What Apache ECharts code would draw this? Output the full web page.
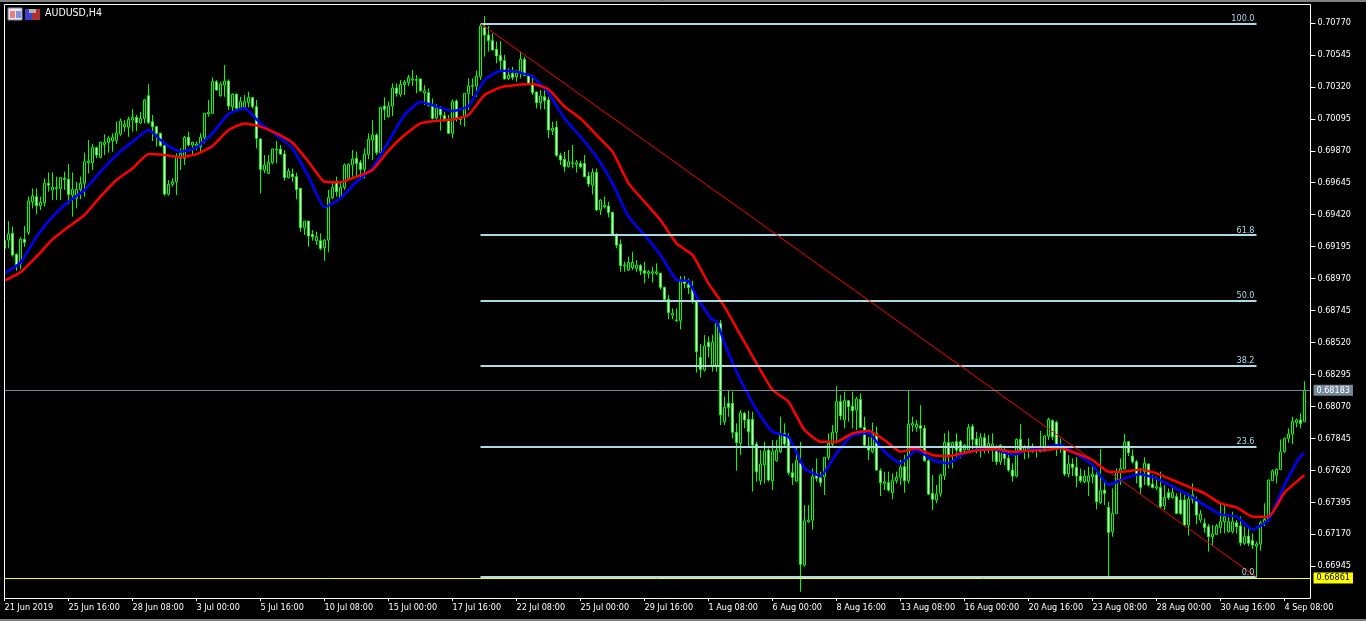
<!DOCTYPE html>
<html>
<head>
<meta charset="utf-8">
<title>AUDUSD,H4</title>
<script src="https://cdn.jsdelivr.net/npm/echarts@6/dist/echarts.min.js"></script>
<style>
html, body { margin: 0; padding: 0; background: #000; }
#chart { width: 1366px; height: 621px; }
</style>
</head>
<body>
<div id="chart"></div>
<script>
var tickLabels = ['21 Jun 2019', '25 Jun 16:00', '28 Jun 08:00', '3 Jul 00:00', '5 Jul 16:00', '10 Jul 08:00', '15 Jul 00:00',
    '17 Jul 16:00', '22 Jul 08:00', '25 Jul 00:00', '29 Jul 16:00', '1 Aug 08:00', '6 Aug 00:00', '8 Aug 16:00',
    '13 Aug 08:00', '16 Aug 00:00', '20 Aug 16:00', '23 Aug 08:00', '28 Aug 00:00', '30 Aug 16:00', '4 Sep 08:00'];
var priceTicks = [0.70770, 0.70545, 0.70320, 0.70095, 0.69870, 0.69645, 0.69420, 0.69195, 0.68970, 0.68745,
    0.68520, 0.68295, 0.68070, 0.67845, 0.67620, 0.67395, 0.67170, 0.66945];

var opens = [
0.69183,0.69241,0.69288,0.69140,0.69077,0.69246,0.69295,0.69511,0.69547,0.69483,
0.69504,0.69641,0.69594,0.69603,0.69605,0.69676,0.69669,0.69558,0.69535,0.69598,
0.69641,0.69786,0.69786,0.69892,0.69824,0.69913,0.69929,0.69941,0.69941,0.69988,
0.70040,0.70037,0.70087,0.70105,0.70066,0.70098,0.70258,0.70075,0.70040,0.69993,
0.69906,0.69565,0.69634,0.69652,0.69817,0.69817,0.69965,0.69911,0.69904,0.69899,
0.69965,0.70129,0.70134,0.70357,0.70258,0.70333,0.70361,0.70181,0.70268,0.70169,
0.70176,0.70211,0.70244,0.70181,0.69953,0.69735,0.69711,0.69786,0.69875,0.69882,
0.69847,0.69681,0.69706,0.69688,0.69605,0.69328,0.69375,0.69281,0.69237,0.69237,
0.69187,0.69241,0.69540,0.69652,0.69542,0.69612,0.69676,0.69770,0.69817,0.69786,
0.69739,0.69845,0.69946,0.69981,0.69857,0.70185,0.70110,0.70185,0.70312,0.70268,
0.70336,0.70350,0.70368,0.70366,0.70376,0.70279,0.70279,0.70190,0.70101,0.70169,
0.70117,0.70091,0.69993,0.70221,0.70098,0.70105,0.70275,0.70324,0.70326,0.70392,
0.70737,0.70685,0.70646,0.70585,0.70542,0.70505,0.70380,0.70415,0.70392,0.70415,
0.70514,0.70404,0.70345,0.70284,0.70209,0.70251,0.70228,0.70012,0.70035,0.69838,
0.69810,0.69758,0.69781,0.69774,0.69781,0.69781,0.69692,0.69629,0.69718,0.69453,
0.69476,0.69481,0.69436,0.69281,0.69211,0.69058,0.69030,0.69047,0.69042,0.69061,
0.69025,0.69007,0.69007,0.69007,0.69007,0.68908,0.68824,0.68713,0.68673,0.68673,
0.68960,0.68929,0.68901,0.68807,0.68415,0.68326,0.68521,0.68349,0.68349,0.68654,
0.67962,0.68091,0.68091,0.67887,0.67809,0.68021,0.67978,0.67978,0.67804,0.67546,
0.67657,0.67762,0.67546,0.67687,0.67750,0.67880,0.67856,0.67603,0.67544,0.67668,
0.66952,0.67257,0.67269,0.67598,0.67567,0.67574,0.67711,0.67804,0.67887,0.68103,
0.67974,0.68110,0.68072,0.68044,0.68119,0.67922,0.67790,0.67750,0.67880,0.67617,
0.67527,0.67532,0.67462,0.67546,0.67570,0.67645,0.67546,0.67938,0.67922,0.67934,
0.67915,0.67687,0.67457,0.67410,0.67457,0.67581,0.67816,0.67790,0.67821,0.67821,
0.67762,0.67762,0.67927,0.67840,0.67786,0.67849,0.67762,0.67762,0.67767,0.67680,
0.67750,0.67704,0.67621,0.67579,0.67837,0.67762,0.67762,0.67750,0.67762,0.67750,
0.67774,0.67861,0.67969,0.67957,0.67774,0.67762,0.67593,0.67664,0.67640,0.67579,
0.67539,0.67539,0.67574,0.67586,0.67391,0.67480,0.67358,0.67187,0.67316,0.67605,
0.67628,0.67821,0.67720,0.67680,0.67586,0.67610,0.67664,0.67523,0.67495,0.67499,
0.67368,0.67462,0.67427,0.67434,0.67410,0.67410,0.67234,0.67415,0.67410,0.67269,
0.67246,0.67222,0.67152,0.67168,0.67217,0.67257,0.67187,0.67187,0.67250,0.67227,
0.67105,0.67156,0.67124,0.67086,0.67100,0.67246,0.67274,0.67546,0.67586,0.67626,
0.67750,0.67844,0.67875,0.67957,0.67974,0.67962];
var highs = [
0.69253,0.69375,0.69335,0.69148,0.69260,0.69340,0.69547,0.69605,0.69605,0.69547,
0.69676,0.69718,0.69718,0.69688,0.69683,0.69723,0.69777,0.69718,0.69652,0.69688,
0.69857,0.69946,0.69918,0.69899,0.69934,0.69986,0.69974,0.69993,0.70075,0.70098,
0.70087,0.70110,0.70164,0.70122,0.70145,0.70235,0.70340,0.70122,0.70040,0.69997,
0.69934,0.69664,0.69676,0.69852,0.69887,0.69974,0.70005,0.69934,0.69934,0.69993,
0.70134,0.70228,0.70387,0.70368,0.70357,0.70474,0.70373,0.70275,0.70275,0.70251,
0.70263,0.70286,0.70246,0.70228,0.69958,0.69840,0.69840,0.69887,0.69939,0.69911,
0.69875,0.69746,0.69746,0.69716,0.69605,0.69375,0.69375,0.69312,0.69300,0.69288,
0.69248,0.69594,0.69652,0.69688,0.69652,0.69781,0.69781,0.69875,0.69864,0.69805,
0.69887,0.69993,0.70087,0.69993,0.70181,0.70246,0.70216,0.70345,0.70345,0.70368,
0.70368,0.70404,0.70439,0.70404,0.70376,0.70333,0.70310,0.70239,0.70199,0.70185,
0.70145,0.70122,0.70232,0.70232,0.70110,0.70275,0.70380,0.70380,0.70434,0.70763,
0.70819,0.70749,0.70697,0.70638,0.70643,0.70545,0.70451,0.70462,0.70439,0.70568,
0.70533,0.70404,0.70404,0.70286,0.70298,0.70310,0.70251,0.70075,0.70082,0.69857,
0.69864,0.69875,0.69911,0.69805,0.69800,0.69840,0.69723,0.69746,0.69746,0.69528,
0.69547,0.69511,0.69441,0.69288,0.69246,0.69089,0.69124,0.69159,0.69101,0.69072,
0.69089,0.69030,0.69054,0.69077,0.69011,0.68913,0.68854,0.68760,0.68760,0.68988,
0.68988,0.68971,0.68953,0.68819,0.68509,0.68572,0.68561,0.68572,0.68666,0.68678,
0.68138,0.68180,0.68173,0.67950,0.68044,0.68032,0.68039,0.68032,0.67821,0.67762,
0.67821,0.67774,0.67833,0.67833,0.67997,0.67950,0.67880,0.67668,0.67786,0.67821,
0.67375,0.67375,0.67633,0.67703,0.67610,0.67711,0.67880,0.67938,0.68213,0.68150,
0.68173,0.68114,0.68173,0.68138,0.68161,0.67997,0.67856,0.67957,0.67927,0.67633,
0.67610,0.67610,0.67598,0.67610,0.67692,0.67727,0.68178,0.67997,0.67974,0.68079,
0.67938,0.67696,0.67586,0.67516,0.67593,0.67880,0.67896,0.67821,0.67880,0.67833,
0.67804,0.67945,0.67945,0.67891,0.67880,0.67880,0.67868,0.67880,0.67797,0.67804,
0.67786,0.67750,0.67668,0.67844,0.67945,0.67797,0.67844,0.67809,0.67786,0.67898,
0.67868,0.67990,0.67978,0.67969,0.67844,0.67786,0.67727,0.67704,0.67711,0.67633,
0.67621,0.67645,0.67657,0.67621,0.67769,0.67539,0.67398,0.67492,0.67633,0.67704,
0.67875,0.67826,0.67767,0.67692,0.67633,0.67711,0.67668,0.67586,0.67574,0.67610,
0.67516,0.67492,0.67516,0.67457,0.67462,0.67445,0.67457,0.67527,0.67434,0.67340,
0.67281,0.67241,0.67234,0.67241,0.67387,0.67382,0.67293,0.67328,0.67269,0.67293,
0.67222,0.67210,0.67175,0.67117,0.67264,0.67387,0.67555,0.67626,0.67633,0.67837,
0.67851,0.67915,0.67997,0.67985,0.68021,0.68248];
var lows = [
0.69176,0.69183,0.69124,0.69025,0.69035,0.69194,0.69277,0.69464,0.69422,0.69453,
0.69476,0.69582,0.69523,0.69523,0.69523,0.69594,0.69495,0.69406,0.69464,0.69530,
0.69547,0.69711,0.69735,0.69817,0.69817,0.69840,0.69857,0.69864,0.69918,0.69976,
0.70005,0.69969,0.70005,0.70009,0.70059,0.70063,0.70059,0.69939,0.69899,0.69899,
0.69554,0.69554,0.69617,0.69558,0.69735,0.69770,0.69899,0.69840,0.69875,0.69864,
0.69922,0.70110,0.70134,0.70293,0.70251,0.70251,0.70157,0.70145,0.70157,0.70157,
0.70169,0.70176,0.70169,0.69887,0.69570,0.69711,0.69706,0.69777,0.69781,0.69840,
0.69659,0.69676,0.69652,0.69528,0.69300,0.69277,0.69194,0.69237,0.69206,0.69171,
0.69094,0.69155,0.69530,0.69547,0.69530,0.69594,0.69664,0.69688,0.69688,0.69664,
0.69676,0.69810,0.69805,0.69840,0.69852,0.70087,0.70105,0.70115,0.70251,0.70251,
0.70263,0.70326,0.70326,0.70275,0.70286,0.70192,0.70181,0.70091,0.70091,0.70012,
0.70075,0.69988,0.69958,0.70075,0.70051,0.70040,0.70157,0.70256,0.70251,0.70368,
0.70533,0.70568,0.70580,0.70486,0.70439,0.70373,0.70368,0.70368,0.70357,0.70380,
0.70397,0.70345,0.70263,0.70169,0.70162,0.70162,0.69958,0.69981,0.69828,0.69770,
0.69723,0.69753,0.69746,0.69716,0.69746,0.69683,0.69617,0.69563,0.69448,0.69418,
0.69464,0.69401,0.69277,0.69183,0.69018,0.69018,0.69025,0.69030,0.69018,0.68995,
0.68936,0.68971,0.68941,0.68995,0.68894,0.68819,0.68683,0.68683,0.68666,0.68612,
0.68901,0.68861,0.68795,0.68307,0.68274,0.68314,0.68415,0.68314,0.68314,0.67938,
0.67938,0.67997,0.67844,0.67617,0.67727,0.67915,0.67786,0.67469,0.67539,0.67516,
0.67527,0.67539,0.67480,0.67680,0.67739,0.67786,0.67586,0.67516,0.67539,0.66764,
0.66940,0.67250,0.67203,0.67539,0.67504,0.67445,0.67692,0.67786,0.67809,0.67974,
0.67915,0.67962,0.67915,0.67903,0.67915,0.67781,0.67692,0.67739,0.67617,0.67438,
0.67480,0.67469,0.67415,0.67527,0.67516,0.67462,0.67527,0.67891,0.67891,0.67786,
0.67680,0.67445,0.67340,0.67387,0.67433,0.67551,0.67633,0.67633,0.67715,0.67704,
0.67739,0.67750,0.67767,0.67739,0.67711,0.67739,0.67739,0.67680,0.67657,0.67657,
0.67657,0.67610,0.67539,0.67570,0.67762,0.67696,0.67704,0.67743,0.67711,0.67750,
0.67750,0.67833,0.67833,0.67720,0.67743,0.67579,0.67570,0.67579,0.67499,0.67532,
0.67527,0.67438,0.67527,0.67344,0.67382,0.67375,0.66875,0.67152,0.67316,0.67516,
0.67628,0.67720,0.67668,0.67527,0.67452,0.67516,0.67504,0.67492,0.67480,0.67351,
0.67340,0.67410,0.67422,0.67311,0.67304,0.67222,0.67159,0.67386,0.67241,0.67250,
0.67180,0.67046,0.67086,0.67163,0.67175,0.67175,0.67180,0.67175,0.67175,0.67086,
0.67093,0.67086,0.67065,0.66861,0.67053,0.67227,0.67257,0.67546,0.67527,0.67621,
0.67743,0.67814,0.67804,0.67922,0.67915,0.67962];
var closes = [
0.69237,0.69284,0.69136,0.69065,0.69248,0.69225,0.69516,0.69551,0.69483,0.69507,
0.69641,0.69627,0.69612,0.69612,0.69681,0.69669,0.69563,0.69598,0.69598,0.69641,
0.69793,0.69798,0.69894,0.69840,0.69929,0.69929,0.69960,0.69965,0.69995,0.70080,
0.70056,0.70091,0.70105,0.70068,0.70098,0.70228,0.70070,0.70040,0.69993,0.69906,
0.69565,0.69634,0.69652,0.69828,0.69852,0.69965,0.69911,0.69929,0.69918,0.69965,
0.70134,0.70141,0.70357,0.70298,0.70340,0.70361,0.70185,0.70268,0.70169,0.70216,
0.70216,0.70246,0.70181,0.69958,0.69739,0.69770,0.69789,0.69882,0.69882,0.69847,
0.69681,0.69727,0.69688,0.69598,0.69328,0.69375,0.69270,0.69265,0.69265,0.69183,
0.69241,0.69540,0.69610,0.69582,0.69612,0.69770,0.69774,0.69812,0.69781,0.69739,
0.69845,0.69951,0.69981,0.69857,0.70174,0.70162,0.70185,0.70312,0.70275,0.70338,
0.70352,0.70387,0.70376,0.70373,0.70293,0.70293,0.70190,0.70098,0.70171,0.70122,
0.70094,0.69993,0.70216,0.70098,0.70091,0.70275,0.70326,0.70329,0.70397,0.70749,
0.70685,0.70646,0.70580,0.70538,0.70505,0.70376,0.70401,0.70387,0.70415,0.70514,
0.70401,0.70345,0.70279,0.70209,0.70256,0.70223,0.70016,0.70028,0.69838,0.69805,
0.69758,0.69793,0.69786,0.69786,0.69758,0.69688,0.69636,0.69718,0.69453,0.69523,
0.69488,0.69434,0.69281,0.69206,0.69061,0.69065,0.69084,0.69084,0.69065,0.69025,
0.69007,0.69018,0.69018,0.69018,0.68908,0.68824,0.68730,0.68725,0.68678,0.68960,
0.68936,0.68906,0.68807,0.68455,0.68330,0.68495,0.68490,0.68521,0.68654,0.68009,
0.68063,0.68063,0.67887,0.67814,0.68025,0.67974,0.67891,0.67797,0.67610,0.67664,
0.67755,0.67551,0.67750,0.67762,0.67880,0.67804,0.67603,0.67570,0.67687,0.66957,
0.67264,0.67269,0.67574,0.67563,0.67534,0.67711,0.67809,0.67887,0.68103,0.68002,
0.68110,0.68068,0.68039,0.68122,0.67922,0.67797,0.67762,0.67875,0.67621,0.67532,
0.67539,0.67480,0.67546,0.67570,0.67640,0.67546,0.67945,0.67950,0.67943,0.67915,
0.67687,0.67452,0.67415,0.67452,0.67586,0.67816,0.67727,0.67814,0.67762,0.67750,
0.67797,0.67922,0.67837,0.67797,0.67849,0.67774,0.67809,0.67804,0.67680,0.67797,
0.67704,0.67621,0.67579,0.67837,0.67762,0.67786,0.67774,0.67774,0.67774,0.67774,
0.67861,0.67978,0.67856,0.67804,0.67804,0.67593,0.67664,0.67640,0.67579,0.67546,
0.67579,0.67579,0.67593,0.67398,0.67476,0.67457,0.67182,0.67316,0.67610,0.67633,
0.67816,0.67743,0.67680,0.67593,0.67499,0.67668,0.67516,0.67499,0.67504,0.67363,
0.67429,0.67427,0.67462,0.67316,0.67316,0.67234,0.67415,0.67445,0.67304,0.67311,
0.67217,0.67152,0.67171,0.67227,0.67257,0.67293,0.67257,0.67257,0.67222,0.67109,
0.67152,0.67105,0.67093,0.67100,0.67250,0.67274,0.67551,0.67614,0.67626,0.67750,
0.67844,0.67875,0.67962,0.67974,0.67950,0.68183];

// moving averages, read every 4th bar (a few more where the blue line has flats)
var redBars = [0,4,8,12,16,20,24,28,32,36,40,44,48,52,56,60,64,68,72,76,80,84,88,92,96,100,104,108,112,116,120,124,128,132,136,140,144,148,152,156,160,164,168,
    172,176,180,184,188,192,196,200,204,208,212,216,220,224,228,232,236,240,244,248,252,256,260,264,268,272,276,280,284,288,292,296,300,304,308,312,316,320,324,325];
var blueBars = [0,4,8,12,16,20,24,28,32,36,40,44,48,52,56,60,64,68,72,76,80,84,88,92,96,100,104,108,112,116,120,124,128,132,136,140,144,148,152,156,160,164,168,
    171,173,176,177,178,180,184,188,192,196,200,204,208,212,216,220,224,228,232,236,240,244,248,252,256,260,264,268,272,276,280,284,288,292,296,300,304,308,312,316,320,324,325];
var blueMa = [0.69007,0.69082,0.69265,0.69406,0.69511,0.69594,0.69723,0.69840,0.69934,0.70016,0.69922,0.69864,0.69894,0.69993,0.70129,0.70169,0.70063,0.69981,0.69887,0.69688,0.69472,0.69535,0.69652,0.69746,0.69934,0.70122,0.70216,0.70181,0.70150,0.70185,0.70368,0.70434,0.70427,0.70392,0.70275,0.70098,0.69969,0.69828,0.69641,0.69406,0.69277,0.69136,0.68960,
    0.68953,0.68842,0.68713,0.68678,0.68673,0.68514,0.68255,0.68044,0.67891,0.67856,0.67633,0.67579,0.67739,0.67868,0.67880,0.67750,0.67668,0.67762,0.67692,0.67668,0.67739,0.67769,0.67762,0.67727,0.67762,0.67781,0.67797,0.67734,0.67657,0.67516,0.67563,0.67591,0.67563,0.67504,0.67445,0.67375,0.67309,0.67293,0.67203,0.67269,0.67516,0.67720,0.67739];
var redMa = [0.68955,0.69014,0.69124,0.69246,0.69335,0.69418,0.69547,0.69664,0.69746,0.69847,0.69840,0.69824,0.69847,0.69904,0.70016,0.70063,0.70040,0.69993,0.69927,0.69793,0.69652,0.69648,0.69688,0.69735,0.69871,0.69981,0.70063,0.70082,0.70091,0.70122,0.70263,0.70317,0.70333,0.70340,0.70303,0.70181,0.70098,0.69981,0.69864,0.69641,0.69511,0.69382,0.69218,
    0.69136,0.68936,0.68772,0.68572,0.68373,0.68185,0.68103,0.67903,0.67821,0.67821,0.67880,0.67898,0.67833,0.67750,0.67774,0.67727,0.67720,0.67743,0.67762,0.67767,0.67750,0.67757,0.67762,0.67774,0.67739,0.67692,0.67610,0.67610,0.67626,0.67598,0.67551,0.67504,0.67457,0.67387,0.67358,0.67293,0.67293,0.67462,0.67563,0.67584];

// fibonacci tool
var fiboStart = 119, fiboEnd = 313;
var fiboNames = ['100.0', '61.8', '50.0', '38.2', '23.6', '0.0'];
var fiboPrices = [0.70766, 0.69277, 0.68817, 0.68357, 0.67788, 0.66868];
var bidPrice = 0.68183;
var lowPrice = 0.66861;

var barCount = opens.length + 1;
var categories = [];
for (var i = 0; i < barCount; i++) {
    categories.push(i % 16 === 0 && tickLabels[i / 16] ? tickLabels[i / 16] : '');
}
var candles = opens.map(function (open, idx) {
    return [open, closes[idx], lows[idx], highs[idx]];
});
function maSeries(bars, values) {
    return bars.map(function (bar, idx) {
        return [bar, values[idx]];
    });
}
var fiboLines = fiboNames.map(function (name, idx) {
    return [{ name: name, coord: [fiboStart, fiboPrices[idx]] }, { coord: [fiboEnd, fiboPrices[idx]] }];
});

var labelFont = '"DejaVu Sans Condensed", "Liberation Sans"';
function priceTag(value, bg, fg, lineColor) {
    return {
        yAxis: value,
        lineStyle: { color: lineColor, width: 1, type: 'solid' },
        label: {
            show: true, position: 'end', distance: 3, formatter: value.toFixed(5),
            backgroundColor: bg, color: fg, fontFamily: labelFont, fontSize: 9,
            padding: [1, 3, 0, 3], lineHeight: 10
        }
    };
}

var white = '#ffffff';
var chart = echarts.init(document.getElementById('chart'));
chart.setOption({
    animation: false,
    backgroundColor: '#000000',
    title: {
        text: 'AUDUSD,H4', left: 45, top: 8, padding: 0,
        textStyle: { color: white, fontFamily: labelFont, fontSize: 10.5, fontWeight: 'normal' }
    },
    grid: { left: 2.5, right: 55.5, top: 4, bottom: 23 },
    xAxis: {
        type: 'category',
        data: categories,
        boundaryGap: true,
        axisLine: { show: false },
        splitLine: { show: false },
        axisTick: {
            show: true, alignWithLabel: true, length: 3, lineStyle: { color: white },
            interval: function (idx) { return idx % 16 === 0; }
        },
        axisLabel: {
            color: white, fontFamily: labelFont, fontSize: 9, align: 'left', margin: 5,
            hideOverlap: false,
            interval: function (idx) { return idx % 16 === 0; }
        }
    },
    yAxis: {
        type: 'value',
        position: 'right',
        min: 0.66720,
        max: 0.70904,
        scale: true,
        splitLine: { show: false },
        axisLine: { show: false },
        axisTick: { show: true, length: 5, lineStyle: { color: white }, customValues: priceTicks },
        axisLabel: {
            color: white, fontFamily: labelFont, fontSize: 9, margin: 7,
            customValues: priceTicks,
            formatter: function (value) { return value.toFixed(5); }
        }
    },
    series: [
        {
            type: 'candlestick',
            data: candles,
            barWidth: 2,
            z: 2,
            itemStyle: { color: '#000000', color0: '#ffffff', borderColor: '#00ff00', borderColor0: '#00ff00', borderWidth: 1 }
        },
        {
            type: 'line', name: 'blue', data: maSeries(blueBars, blueMa), showSymbol: false, smooth: 0.15, z: 3,
            lineStyle: { color: '#0000ff', width: 2.5 }
        },
        {
            type: 'line', name: 'red', data: maSeries(redBars, redMa), showSymbol: false, smooth: 0.15, z: 4,
            lineStyle: { color: '#ff0000', width: 2.5 }
        },
        {
            type: 'line', name: 'fibo', data: [], z: 5,
            markLine: {
                silent: true, symbol: ['none', 'none'], animation: false, precision: 5,
                lineStyle: { color: '#add8e6', width: 2, type: 'solid' },
                label: {
                    show: true, position: 'insideEndTop', distance: [2, 0], formatter: '{b}',
                    color: '#add8e6', fontFamily: labelFont, fontSize: 9
                },
                data: fiboLines
            }
        },
        {
            type: 'line', name: 'levels', data: [], z: 6,
            markLine: {
                silent: true, symbol: ['none', 'none'], animation: false, precision: 5,
                data: [
                    [{ coord: [fiboStart, fiboPrices[0]], lineStyle: { color: '#ff0000', width: 1, type: 'solid' }, label: { show: false } },
                     { coord: [fiboEnd, fiboPrices[5]] }],
                    priceTag(bidPrice, '#778899', white, '#778899'),
                    priceTag(lowPrice, '#ffff00', '#000000', '#ffff00')
                ]
            }
        }
    ],
    graphic: [
        { type: 'rect', z: 100, shape: { x: 0, y: 0, width: 4, height: 621 }, style: { fill: '#000000' } },
        { type: 'rect', z: 101, shape: { x: 0, y: 0, width: 1366, height: 2 }, style: { fill: '#808080' } },
        { type: 'rect', z: 101, shape: { x: 0, y: 619, width: 1366, height: 2 }, style: { fill: '#808080' } },
        { type: 'rect', z: 101, shape: { x: 4.5, y: 4.5, width: 1306, height: 594 }, style: { fill: 'none', stroke: white, lineWidth: 1 } },
        // chart window icons
        { type: 'rect', z: 102, shape: { x: 8, y: 8, width: 14, height: 12 }, style: { fill: '#e8e8f8', stroke: '#8888aa', lineWidth: 1 } },
        { type: 'rect', z: 103, shape: { x: 10, y: 11, width: 5, height: 7 }, style: { fill: '#f08070' } },
        { type: 'rect', z: 103, shape: { x: 16, y: 11, width: 5, height: 7 }, style: { fill: '#8090e0' } },
        { type: 'rect', z: 102, shape: { x: 25, y: 9, width: 8, height: 11 }, style: { fill: '#4040d0' } },
        { type: 'rect', z: 102, shape: { x: 32, y: 9, width: 8, height: 11 }, style: { fill: '#b03030' } },
        { type: 'rect', z: 103, shape: { x: 29, y: 9, width: 7, height: 4 }, style: { fill: '#b0b0b0' } }
    ]
});
</script>
</body>
</html>
